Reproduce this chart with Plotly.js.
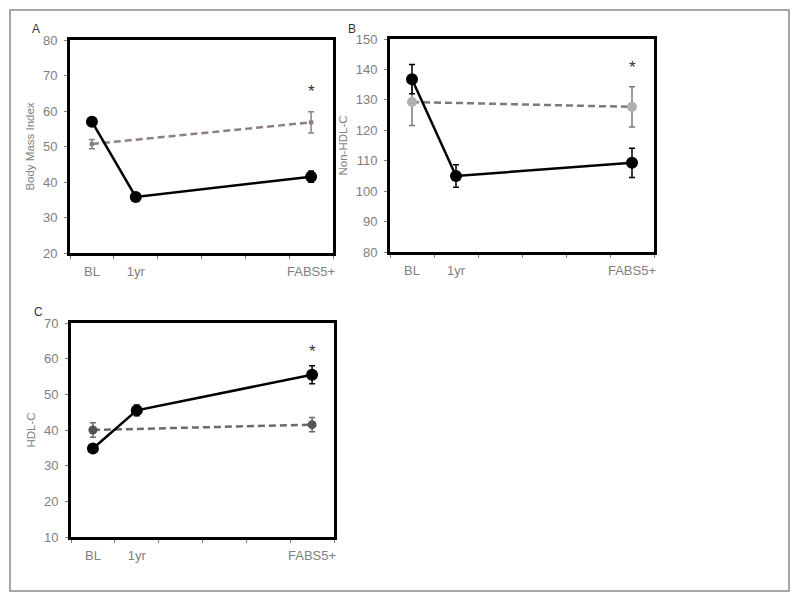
<!DOCTYPE html>
<html>
<head>
<meta charset="utf-8">
<script src="https://cdn.plot.ly/plotly-3.0.1.min.js"></script>
<style>
  html, body { margin: 0; padding: 0; background: #fff; }
  #chart { width: 800px; height: 601px; }
</style>
</head>
<body>
<div id="chart"></div>
<script>
// time points and the empty slots on the x axis
const timepoints = ['BL', '1yr', 'FABS5+'];
const ctrlTimes = ['BL', 'FABS5+'];
const slots = ['BL', '1yr', ' ', '  ', '   ', 'FABS5+'];

// A: body mass index
const bmiSurg = [57.0, 35.8, 41.5];
const bmiSurgErr = [0.8, 0.6, 1.6];
const bmiCtrl = [50.7, 56.8];
const bmiCtrlErr = [1.3, 3.0];

// B: non-HDL cholesterol
const nonHdlSurg = [136.8, 105.0, 109.3];
const nonHdlSurgErr = [4.8, 3.7, 4.8];
const nonHdlCtrl = [129.3, 127.7];
const nonHdlCtrlErr = [7.7, 6.6];

// C: HDL cholesterol
const hdlSurg = [34.8, 45.5, 55.5];
const hdlSurgErr = [0.9, 1.5, 2.5];
const hdlCtrl = [40.0, 41.5];
const hdlCtrlErr = [2.0, 2.0];

// significance markers (y of the asterisk at FABS5+)
const starY = [65.5, 140.5, 62.0];

const W = 800, H = 601;
const px = v => v / W;
const py = v => 1 - v / H;

const font = { family: 'Liberation Sans, Arial, sans-serif', color: '#808080', size: 13 };

function surgTrace(y, err, ax) {
    return {
        x: timepoints, y: y,
        xaxis: 'x' + ax, yaxis: 'y' + ax,
        mode: 'lines+markers',
        line: { color: '#000', width: 2.5 },
        marker: { color: '#000', size: 12 },
        error_y: { type: 'data', array: err, color: '#000', thickness: 1.5, width: 3 },
        hoverinfo: 'y',
    };
}

function ctrlTrace(y, err, ax, mcol, msize, lcol) {
    return {
        x: ctrlTimes, y: y,
        xaxis: 'x' + ax, yaxis: 'y' + ax,
        mode: 'lines+markers',
        line: { color: lcol, width: 2.5, dash: '7px,4px' },
        marker: { color: mcol, size: msize },
        error_y: { type: 'data', array: err, color: lcol, thickness: 1.5, width: 3 },
        hoverinfo: 'y',
    };
}

let data = [
    ctrlTrace(bmiCtrl, bmiCtrlErr, '', '#8c8080', 5, '#8c8080'),
    surgTrace(bmiSurg, bmiSurgErr, ''),
    ctrlTrace(nonHdlCtrl, nonHdlCtrlErr, '2', '#b0b0b0', 10, '#7a7a7a'),
    surgTrace(nonHdlSurg, nonHdlSurgErr, '2'),
    ctrlTrace(hdlCtrl, hdlCtrlErr, '3', '#555555', 9, '#6a6a6a'),
    surgTrace(hdlSurg, hdlSurgErr, '3'),
];

function xAxis(domain, anchor) {
    return {
        domain: domain,
        anchor: anchor,
        type: 'category',
        categoryorder: 'array',
        categoryarray: slots,
        range: [-0.5, 5.5],
        tickson: 'boundaries',
        tickangle: 0,
        ticks: 'outside',
        ticklen: 3,
        tickcolor: '#7f7f7f',
        ticklabelstandoff: 4,
        showgrid: false,
        zeroline: false,
        showline: true,
        linewidth: 3,
        linecolor: '#000',
        mirror: true,
        tickfont: font,
        fixedrange: true,
    };
}

function yAxis(domain, anchor, range, dtick, title) {
    return {
        domain: domain,
        anchor: anchor,
        range: range,
        dtick: dtick,
        ticks: 'outside',
        ticklen: 3,
        tickcolor: '#7f7f7f',
        ticklabelstandoff: 4,
        showgrid: false,
        zeroline: false,
        showline: true,
        linewidth: 3,
        linecolor: '#000',
        mirror: true,
        tickfont: font,
        title: { text: title, font: { family: font.family, color: '#808080', size: 11.5 }, standoff: 6 },
        fixedrange: true,
    };
}

const panels = [['x', 'y'], ['x2', 'y2'], ['x3', 'y3']];

let annotations = panels.map((p, i) => ({
    xref: p[0], yref: p[1], x: timepoints[2], y: starY[i],
    text: '*', showarrow: false,
    font: { family: font.family, size: 17, color: '#333' },
}));

const letters = [['A', 36, 29], ['B', 352, 29], ['C', 38, 312]];
letters.forEach(l => annotations.push({
    xref: 'paper', yref: 'paper', x: px(l[1]), y: py(l[2]),
    xanchor: 'center', yanchor: 'middle',
    text: l[0], showarrow: false,
    font: { family: font.family, size: 12, color: '#333' },
}));

let layout = {
    width: W,
    height: H,
    margin: { l: 0, r: 0, t: 0, b: 0 },
    paper_bgcolor: '#fff',
    plot_bgcolor: '#fff',
    showlegend: false,
    font: font,

    xaxis: xAxis([px(70), px(333)], 'y'),
    yaxis: yAxis([py(253), py(40)], 'x', [20, 80], 10, 'Body Mass Index'),
    xaxis2: xAxis([px(390), px(654)], 'y2'),
    yaxis2: yAxis([py(252), py(39)], 'x2', [80, 150], 10, 'Non-HDL-C'),
    xaxis3: xAxis([px(71), px(334)], 'y3'),
    yaxis3: yAxis([py(537), py(323)], 'x3', [10, 70], 10, 'HDL-C'),

    annotations: annotations,

    shapes: [
        {
            type: 'rect', xref: 'paper', yref: 'paper',
            x0: px(10), x1: px(789), y0: py(591), y1: py(10),
            line: { color: '#8a8a8a', width: 1.5 },
        },
    ],
};

let config = { staticPlot: true };

Plotly.newPlot(document.getElementById('chart'), data, layout, config);
</script>
</body>
</html>
